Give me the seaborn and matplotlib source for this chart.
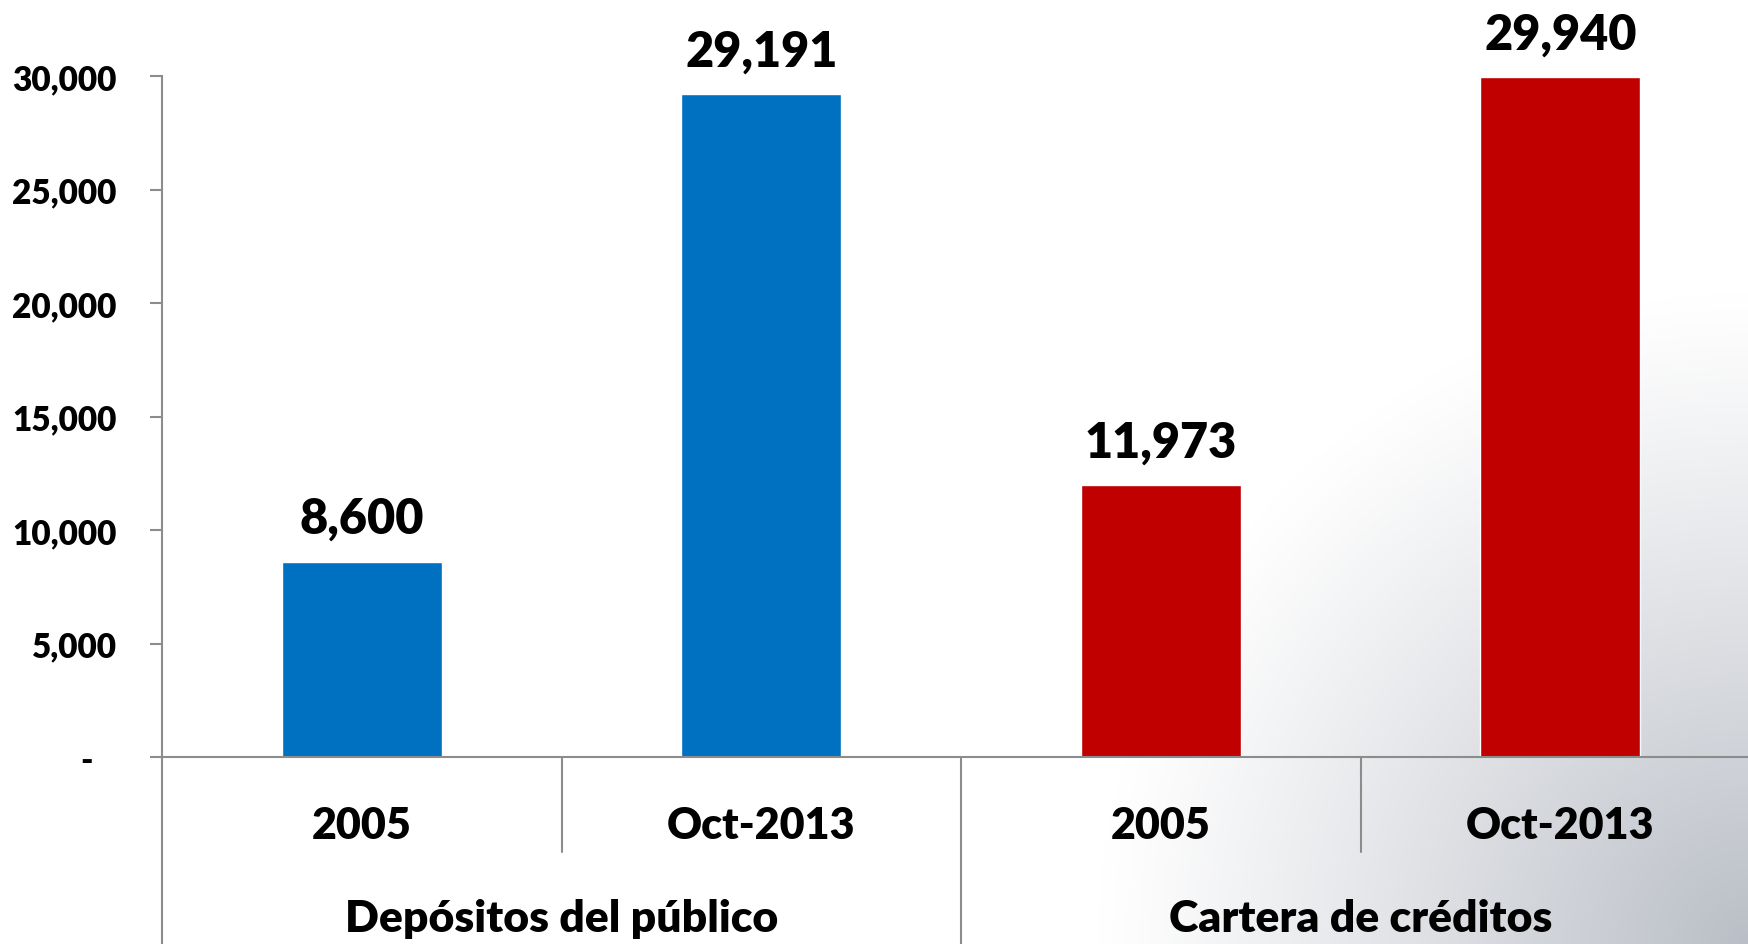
import numpy as np
import pandas as pd
import matplotlib
matplotlib.use('Agg')
import matplotlib.pyplot as plt
from matplotlib.ticker import FuncFormatter
import seaborn as sns

# data
grupos = ['Depósitos del público', 'Cartera de créditos']
periodos = ['2005', 'Oct-2013']
depositos = [8600, 29191]
cartera = [11973, 29940]
colores = {'Depósitos del público': '#0070C0', 'Cartera de créditos': '#C00000'}

df = pd.DataFrame({
    'grupo': [grupos[0]] * 2 + [grupos[1]] * 2,
    'periodo': periodos * 2,
    'valor': depositos + cartera,
})
df['key'] = df['grupo'] + ' ' + df['periodo']

sns.set_style('white')
plt.rcParams['font.family'] = ['Lato', 'DejaVu Sans']
plt.rcParams['font.weight'] = 'heavy'
plt.rcParams['text.color'] = 'black'
plt.rcParams['ytick.color'] = 'black'

fig = plt.figure(figsize=(17.48, 9.45), dpi=100)

# soft grey shading in the lower right corner (watermark area)
h, w = 945, 1748
yy, xx = np.mgrid[0:h, 0:w]
d = np.sqrt(((xx - w) / 650.0) ** 2 + ((yy - h) / 650.0) ** 2)
shade = np.clip(1 - d, 0, 1) ** 1.1 * 0.8
base = np.array([0.66, 0.68, 0.72])
img = np.ones((h, w, 3)) * (1 - shade[..., None]) + base * shade[..., None]
bg = fig.add_axes([0, 0, 1, 1], zorder=-1)
bg.imshow(img, aspect='auto')
bg.axis('off')

ax = fig.add_axes([162 / 1748, 1 - 758 / 945, (1760 - 162) / 1748, 681 / 945], zorder=1)
ax.patch.set_alpha(0)

sns.barplot(data=df, x='key', y='valor', hue='grupo', palette=colores,
            width=0.4, dodge=False, legend=False, ax=ax, saturation=1)

ax.set_xlim(-0.5, 3.5)
ax.set_ylim(0, 30000)
ax.set_yticks(np.arange(0, 30001, 5000))
ax.yaxis.set_major_formatter(FuncFormatter(lambda v, p: '-   ' if v == 0 else f'{v:,.0f}'))
ax.tick_params(axis='y', left=True, length=8.6, width=1.5, color='#8c8c8c',
               labelcolor='black', pad=24, labelsize=24)
ax.set_xticks([])
ax.set_xlabel('')
ax.set_ylabel('')

for s in ['top', 'right']:
    ax.spines[s].set_visible(False)
for s in ['left', 'bottom']:
    ax.spines[s].set_color('#8c8c8c')
    ax.spines[s].set_linewidth(1.5)

# value labels
for c in ax.containers:
    ax.bar_label(c, labels=[f'{v:,.0f}' for v in c.datavalues], padding=15,
                 fontsize=35, fontweight='heavy', color='black')

# two-level category axis
trans = ax.get_xaxis_transform()
for x, y_end in [(-0.5, -0.3), (0.5, -0.14), (1.5, -0.3), (2.5, -0.14)]:
    ax.plot([x, x], [0, y_end], transform=trans, color='#8c8c8c', lw=1.5, clip_on=False)

for i, key in enumerate(df['key']):
    ax.text(i, -0.1, df['periodo'][i], transform=trans, ha='center', va='center',
            fontsize=31, fontweight='heavy')
for j, g in enumerate(grupos):
    ax.text(2 * j + 0.5, -0.237, g, transform=trans, ha='center', va='center',
            fontsize=32, fontweight='heavy')

fig.savefig('out.png', dpi=100)
